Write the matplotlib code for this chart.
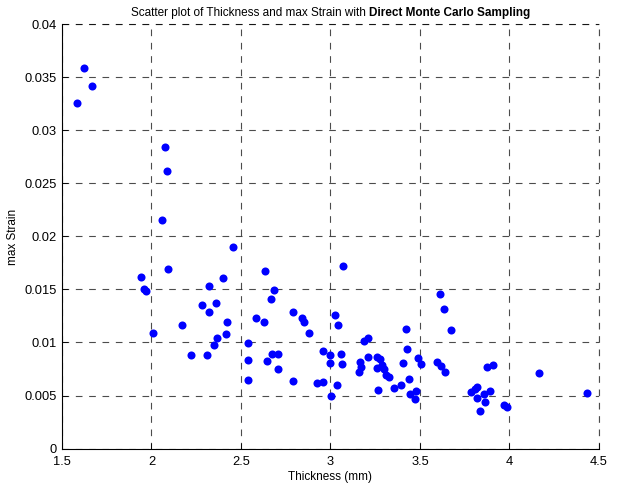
import matplotlib
matplotlib.use("Agg")
import matplotlib.pyplot as plt

plt.rcParams['font.family'] = ['Liberation Sans', 'DejaVu Sans']

# Thickness (mm) and max Strain
thickness = [
    1.621, 1.666, 1.582, 2.078, 2.087, 2.061, 2.454, 2.093, 1.941, 1.959,
    1.970, 2.402, 2.320, 2.636, 2.686, 2.666, 2.282, 2.361, 2.320, 2.790,
    2.584, 2.627, 2.420, 2.171, 2.416, 2.011, 2.364, 2.349, 2.537, 2.219,
    2.308, 2.537, 2.673, 2.705, 2.643, 2.705, 2.537, 2.788, 3.069, 3.614,
    3.634, 3.671, 3.420, 2.840, 2.850, 2.879, 3.026, 3.041, 3.190, 3.207,
    2.961, 2.997, 3.058, 2.999, 3.067, 2.926, 2.956, 3.039, 3.004, 3.208,
    3.164, 3.170, 3.160, 3.260, 3.278, 3.261, 3.290, 3.301, 3.313, 3.328,
    3.264, 3.355, 3.392, 3.428, 3.404, 3.487, 3.508, 3.437, 3.446, 3.476,
    3.474, 3.595, 3.617, 3.638, 3.783, 3.805, 3.820, 3.818, 3.833, 3.874,
    3.909, 4.164, 4.432, 3.857, 3.889, 3.861, 3.972, 3.989,
]
max_strain = [
    0.03587, 0.03420, 0.03257, 0.02842, 0.02615, 0.02153, 0.01904, 0.01696, 0.01618, 0.01502,
    0.01483, 0.01611, 0.01533, 0.01677, 0.01498, 0.01413, 0.01357, 0.01375, 0.01288, 0.01285,
    0.01228, 0.01191, 0.01191, 0.01162, 0.01083, 0.01090, 0.01042, 0.00976, 0.00998, 0.00879,
    0.00885, 0.00838, 0.00892, 0.00892, 0.00825, 0.00753, 0.00646, 0.00640, 0.01725, 0.01455,
    0.01319, 0.01118, 0.01127, 0.01234, 0.01193, 0.01090, 0.01259, 0.01162, 0.01014, 0.01042,
    0.00920, 0.00882, 0.00892, 0.00809, 0.00794, 0.00618, 0.00630, 0.00599, 0.00492, 0.00860,
    0.00813, 0.00772, 0.00722, 0.00860, 0.00842, 0.00762, 0.00788, 0.00747, 0.00693, 0.00677,
    0.00555, 0.00574, 0.00596, 0.00939, 0.00809, 0.00851, 0.00797, 0.00658, 0.00517, 0.00540,
    0.00464, 0.00819, 0.00778, 0.00725, 0.00533, 0.00558, 0.00577, 0.00476, 0.00357, 0.00772,
    0.00785, 0.00715, 0.00527, 0.00511, 0.00540, 0.00442, 0.00410, 0.00392,
]

x_ticks = [1.5, 2, 2.5, 3, 3.5, 4, 4.5]
x_tick_labels = ["1.5", "2", "2.5", "3", "3.5", "4", "4.5"]
y_ticks = [0, 0.005, 0.01, 0.015, 0.02, 0.025, 0.03, 0.035, 0.04]
y_tick_labels = ["0", "0.005", "0.01", "0.015", "0.02", "0.025", "0.03", "0.035", "0.04"]

fig = plt.figure(figsize=(6.2, 4.87), dpi=100)
ax = fig.add_axes([0.1, 0.079, 0.866, 0.871])

ax.plot(thickness, max_strain, 'o', color='#0000ff', markersize=5.8,
        markeredgewidth=0, zorder=3)

ax.set_xlim(1.5, 4.5)
ax.set_ylim(0, 0.04)
ax.set_xticks(x_ticks)
ax.set_xticklabels(x_tick_labels)
ax.set_yticks(y_ticks)
ax.set_yticklabels(y_tick_labels)
ax.tick_params(direction='in', length=4, width=0.6, labelsize=9.3, top=False, right=False)
ax.tick_params(axis='x', pad=5.5)
ax.tick_params(axis='y', pad=4)

dash = (0, (6, 6))
ax.grid(True, color='black', linestyle=dash, linewidth=0.8, alpha=0.7)
ax.axhline(0.04, color='black', linestyle=dash, linewidth=0.8, alpha=0.7, clip_on=False)
ax.axvline(4.5, color='black', linestyle=dash, linewidth=0.8, alpha=0.7, clip_on=False)
ax.spines['top'].set_visible(False)
ax.spines['right'].set_visible(False)
ax.spines['left'].set_linewidth(0.8)
ax.spines['bottom'].set_linewidth(0.8)

ax.set_xlabel("Thickness (mm)", fontsize=8.5, labelpad=2)
ax.set_ylabel("max Strain", fontsize=8.5, labelpad=4)

# title: plain part + bold part, centred together
t1 = ax.text(0.5, 1.012, "Scatter plot of Thickness and max Strain with ",
             transform=ax.transAxes, fontsize=8.5, ha='left', va='bottom')
t2 = ax.annotate("Direct Monte Carlo Sampling", xy=(1, 0), xycoords=t1,
                 fontsize=8.5, fontweight='bold', ha='left', va='bottom')
fig.canvas.draw()
r = fig.canvas.get_renderer()
w1 = t1.get_window_extent(r).width
w2 = t2.get_window_extent(r).width
axw = ax.get_window_extent(r).width
t1.set_x(0.5 - (w1 + w2) / 2 / axw)

fig.savefig("out.png", dpi=100)
